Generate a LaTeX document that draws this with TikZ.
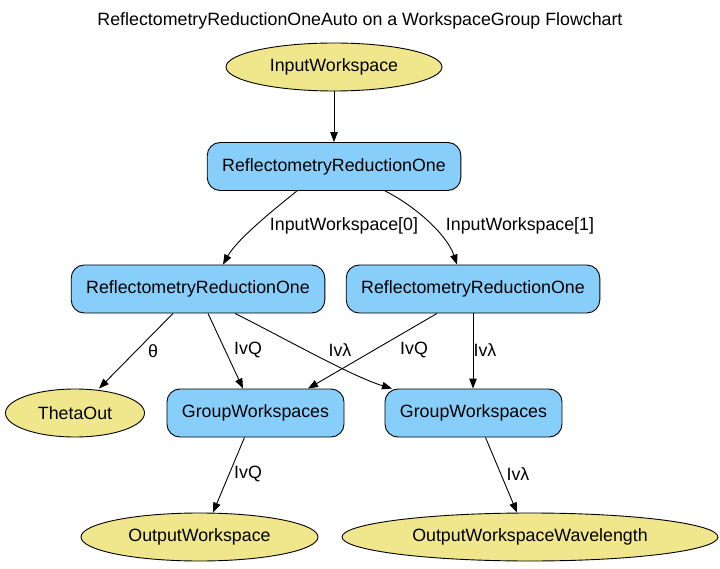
\documentclass[tikz,border=0pt]{standalone}
\usepackage{fontspec}
\setmainfont{Liberation Sans}
\usepackage{tikz}
\usetikzlibrary{positioning,arrows.meta,calc,shapes.geometric}
\definecolor{algblue}{HTML}{87CEFA}
\definecolor{wskhaki}{HTML}{F0E68C}
\tikzset{
  algbox/.style={draw,fill=algblue,rounded corners=13pt,line width=0.9pt,
                 minimum height=48pt,inner xsep=15pt},
  wsnode/.style={draw,ellipse,fill=wskhaki,line width=0.9pt,inner sep=0pt,
                 minimum height=48pt},
  elabel/.style={inner sep=1pt},
  flow/.style={line width=0.9pt,-{Triangle[length=10pt,width=7.5pt]}}
}

\begin{document}
\begin{tikzpicture}[x=1pt,y=-1pt,every node/.style={font=\fontsize{17.8}{21}\selectfont}]
    \useasboundingbox (0,0) rectangle (720,569);
    \node (title) at (360,21) {ReflectometryReductionOneAuto on a WorkspaceGroup Flowchart};

    % workspaces and algorithms
    \node[wsnode,minimum width=216pt] (inws) at (334,67) {InputWorkspace};
    \node[algbox] (trro) at (334,166.5) {ReflectometryReductionOne};
    \node[algbox] (lrro) at (198,289) {ReflectometryReductionOne};
    \node[algbox] (rrro) at (473,289) {ReflectometryReductionOne};
    \node[wsnode,minimum width=139pt] (theta) at (75,413) {ThetaOut};
    \node[algbox] (gwl) at (255.5,413) {GroupWorkspaces};
    \node[algbox] (gwr) at (473.5,413) {GroupWorkspaces};
    \node[wsnode,minimum width=237pt] (ows) at (199.5,537) {OutputWorkspace};
    \node[wsnode,minimum width=376pt] (oww) at (530,537) {OutputWorkspaceWavelength};

    % connectors
    \draw[flow] (inws.south) -- (trro.north);
    \draw[flow] ([xshift=-37pt]trro.south) .. controls +(-25,20) and +(14,-25) .. ([xshift=25pt]lrro.north);
    \draw[flow] ([xshift=51pt]trro.south) .. controls +(30,15) and +(-10,-30) .. ([xshift=-16pt]rrro.north);
    \draw[flow] ([xshift=-25pt]lrro.south) -- ([xshift=24pt]theta.north);
    \draw[flow] ([xshift=10pt]lrro.south) -- ([xshift=-12.5pt]gwl.north);
    \draw[flow] ([xshift=37pt]lrro.south) .. controls +(50,25) and +(-40,-12) .. ([xshift=-81.5pt]gwr.north);
    \draw[flow] ([xshift=-36pt]rrro.south) -- ([xshift=52.5pt]gwl.north);
    \draw[flow] (rrro.south) -- (rrro.south |- gwr.north);
    \draw[flow] ([xshift=-11pt]gwl.south) -- ([xshift=13.5pt]ows.north);
    \draw[flow] ([xshift=12pt]gwr.south) -- ([xshift=-13pt]oww.north);

    % edge labels
    \node[elabel] (lab0) at (344,226) {InputWorkspace[0]};
    \node[elabel] (lab1) at (520,226) {InputWorkspace[1]};
    \node[elabel] (labth) at (153,351) {θ};
    \node[elabel] (labq1) at (248,350) {IvQ};
    \node[elabel] (labl1) at (340,350) {Ivλ};
    \node[elabel] (labq2) at (414,350) {IvQ};
    \node[elabel] (labl2) at (485,350) {Ivλ};
    \node[elabel] (labq3) at (248,474) {IvQ};
    \node[elabel] (labl3) at (518,474) {Ivλ};
  \end{tikzpicture}
\end{document}
